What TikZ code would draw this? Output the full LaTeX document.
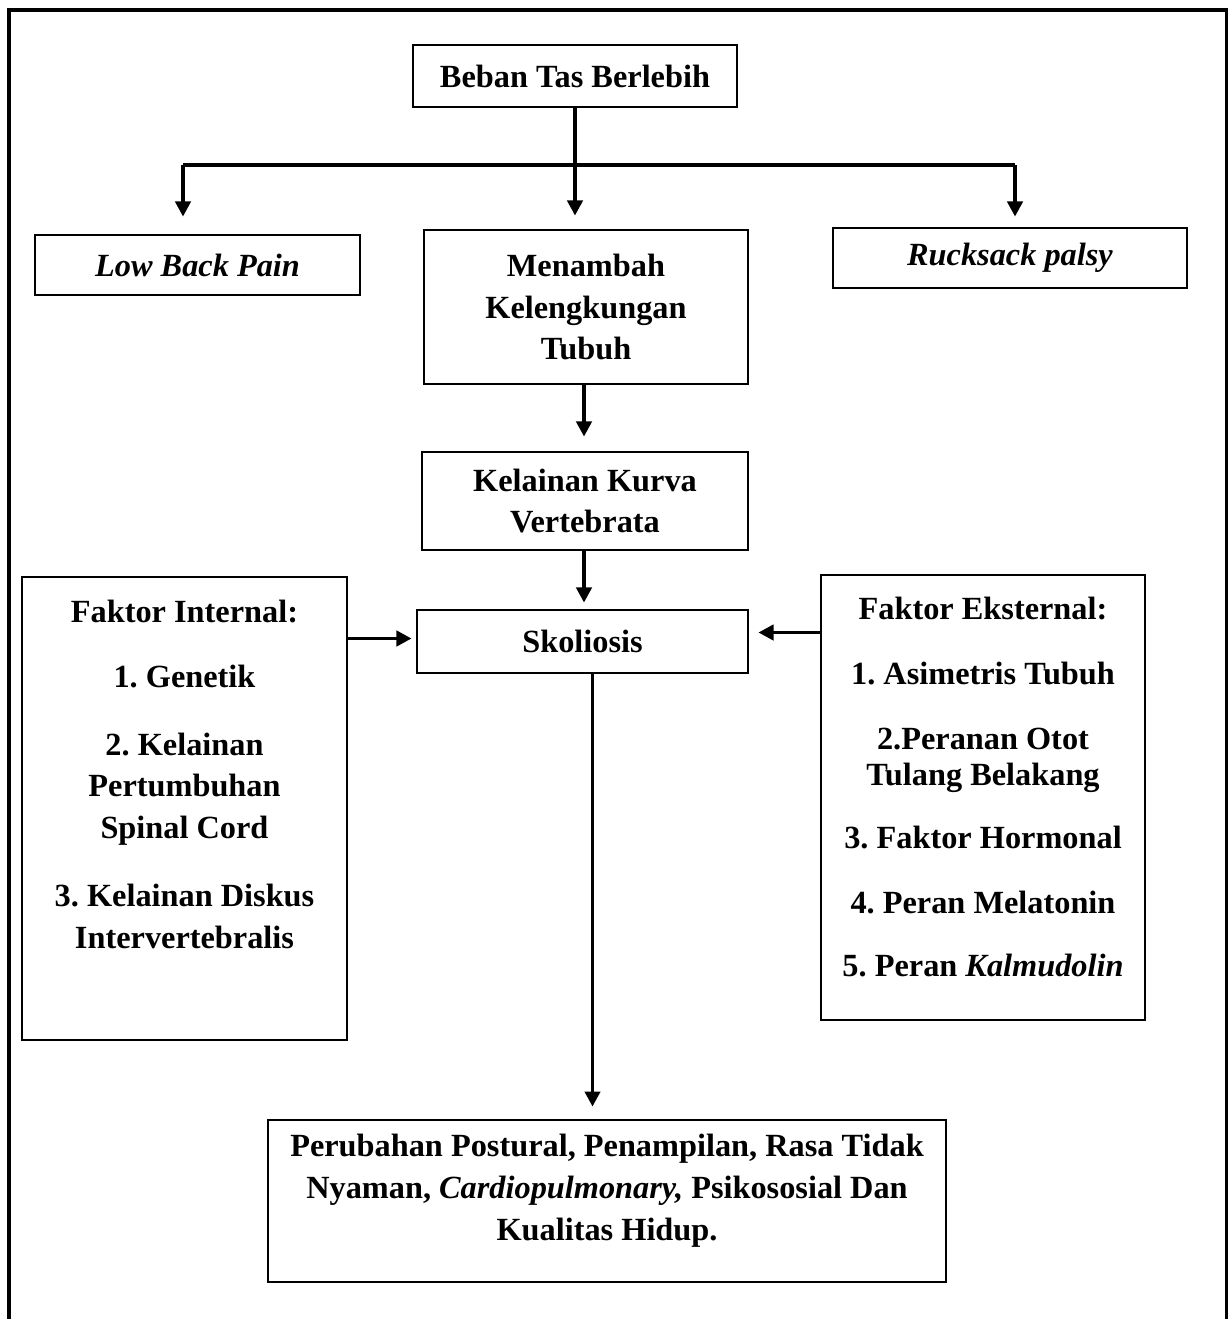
\documentclass[tikz,border=0pt]{standalone}
\usepackage{fontspec}
\setmainfont{Liberation Serif}
\usetikzlibrary{arrows.meta}

\def\px{0.43pt}
\tikzset{
    box/.style={draw, line width=1.2pt, rectangle, inner sep=0pt, align=center},
    arr/.style={line width=1.7pt, -{Triangle[length=6.5pt,width=6.5pt]}},
    bus/.style={line width=1.7pt},
    txt/.style={inner sep=0pt, align=center}
}

\begin{document}
\frenchspacing
\begin{tikzpicture}[x=\px, y=-\px, font=\bfseries\fontsize{13.9}{18}\selectfont]
    \useasboundingbox (0,0) rectangle (1232,1319);
    % outer frame
    \draw[line width=1.3pt] (9,1330) -- (9,10) -- (1226,10) -- (1226,1330);

    \node[box, minimum width=324*\px, minimum height=62*\px] (beban) at (575,76) {Beban Tas Berlebih};
    \node[box, minimum width=325*\px, minimum height=60*\px] (lbp) at (197.5,265) {\textit{Low Back Pain}};
    \node[box, minimum width=324*\px, minimum height=154*\px] (menambah) at (586,307) {Menambah\\ Kelengkungan\\ Tubuh};
    \node[box, minimum width=354*\px, minimum height=60*\px] (rucksack) at (1010,258) {\textit{Rucksack palsy}};
    \node[box, minimum width=326*\px, minimum height=98*\px] (kurva) at (585,501) {Kelainan Kurva\\ Vertebrata};
    \node[box, minimum width=331*\px, minimum height=63*\px] (sko) at (582.5,641.5) {Skoliosis};
    \node[box, minimum width=325*\px, minimum height=463*\px] (internal) at (184.5,808.5) {};
    \node[box, minimum width=324*\px, minimum height=445*\px] (eksternal) at (983,797.5) {};
    \node[box, minimum width=678*\px, minimum height=162*\px] (dampak) at (607,1201) {};

    \node[txt, anchor=north, yshift=-24*\px] (internaltxt) at (internal.north) {Faktor Internal:\\[10pt] 1. Genetik\\[11pt] 2. Kelainan\\ Pertumbuhan\\ Spinal Cord\\[11pt] 3. Kelainan Diskus\\ Intervertebralis};
    \node[txt, anchor=north, yshift=-23*\px] (eksternaltxt) at (eksternal.north) {Faktor Eksternal:\\[10pt] 1. Asimetris Tubuh\\[10pt] 2.Peranan Otot\\[-2.5pt] Tulang Belakang\\[9pt] 3. Faktor Hormonal\\[10pt] 4. Peran Melatonin\\[9pt] 5. Peran \textit{Kalmudolin}};
    \node[txt, yshift=10*\px] (dampaktxt) at (dampak) {Perubahan Postural, Penampilan, Rasa Tidak\\ Nyaman, \textit{Cardiopulmonary,} Psikososial Dan\\ Kualitas Hidup.};

    % percabangan
    \coordinate (busL) at (183,165);
    \coordinate (busR) at (1015,165);
    \draw[bus] (busL) -- (busR);
    \draw[arr, shorten >=13*\px] (beban.south) -- (beban.south |- menambah.north);
    \draw[arr, shorten >=17*\px] (busL) -- (busL |- lbp.north);
    \draw[arr, shorten >=10*\px] (busR) -- (busR |- rucksack.north);

    \draw[arr, shorten >=14*\px] ([xshift=-2*\px]menambah.south) -- ([xshift=-2*\px]menambah.south |- kurva.north);
    \draw[arr, shorten >=6*\px] ([xshift=-1*\px]kurva.south) -- ([xshift=-1*\px]kurva.south |- sko.north);
    \draw[arr, shorten >=4*\px] ([yshift=3*\px]internal.east |- sko.west) -- ([yshift=3*\px]sko.west);
    \draw[arr, shorten >=9*\px] ([yshift=9*\px]eksternal.west |- sko.east) -- ([yshift=9*\px]sko.east);
    \draw[arr, shorten >=12*\px] ([xshift=10*\px]sko.south) -- ([xshift=10*\px]sko.south |- dampak.north);
\end{tikzpicture}
\end{document}
